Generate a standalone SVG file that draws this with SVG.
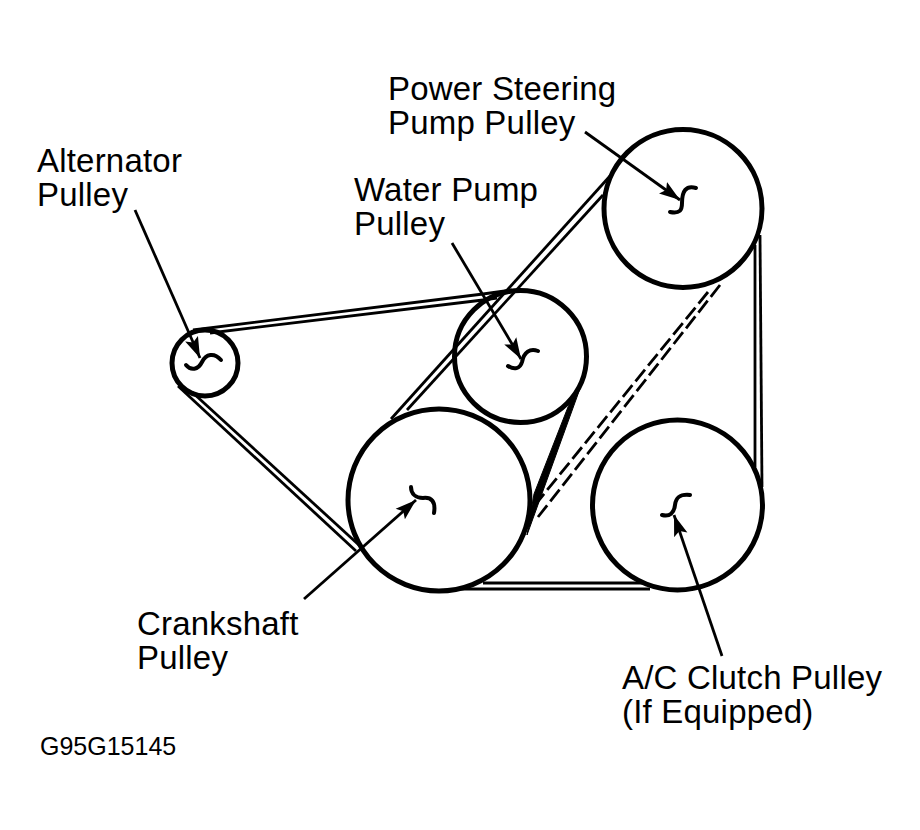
<svg xmlns="http://www.w3.org/2000/svg" width="920" height="830" viewBox="0 0 920 830">
<defs>
<marker id="arrow" markerUnits="userSpaceOnUse" markerWidth="24" markerHeight="16" refX="21" refY="8" orient="auto">
<path d="M0 1L21 8L0 15L4 8Z" fill="#000"/>
</marker>
</defs>
<style>
.p{fill:none;stroke:#000;stroke-width:5}
.s{fill:none;stroke:#000;stroke-width:4;stroke-linecap:round}
.b{fill:none;stroke:#000;stroke-width:2.8}
.d{fill:none;stroke:#000;stroke-width:2.8;stroke-dasharray:15 5}
.a{fill:none;stroke:#000;stroke-width:2.8;marker-end:url(#arrow)}
text{font-family:"Liberation Sans",Arial,sans-serif;font-size:33px;letter-spacing:.2px;fill:#000}
.c{font-size:25px;letter-spacing:0}
</style>
<rect width="920" height="830" fill="#fff"/>
<g id="connectors">
<path class="b" d="M193 330L483 294L512 290"/>
<path class="b" d="M210 333L483 300L497 298"/>
<path class="b" d="M178 386L356 551"/>
<path class="b" d="M192 392L360 546"/>
<path class="b" d="M391 419L610 176"/>
<path class="b" d="M407 410L603 195"/>
<path d="M586 372L568 407L534 494L527 535Z" fill="#000" stroke="#000" stroke-width="1"/>
<path class="d" d="M720 285L538 517"/>
<path class="d" d="M708 292L535 505"/>
<path class="b" d="M755 245L755 467"/>
<path class="b" d="M760 235L762 487"/>
<path class="b" d="M483 583L643 583"/>
<path class="b" d="M460 589L650 589"/>
<path class="a" d="M585 132L680 200"/>
<path class="a" d="M135 210L200 358"/>
<path class="a" d="M452 243L521 359"/>
<path class="a" d="M304 599L416 500"/>
<path class="a" d="M722 656L674 515"/>
</g>
<g id="alternator-pulley">
<circle class="p" cx="205" cy="363" r="33"/>
<path class="s" d="M186 365C191 371 198 370 202 362C206 354 214 352 221 360"/>
<text x="37" y="171.500">Alternator</text>
<text x="37" y="205.500">Pulley</text>
</g>
<g id="water-pump-pulley">
<circle class="p" cx="520.500" cy="356.500" r="66"/>
<path class="s" d="M508 366C514 370 520 369 522 362C524 352 530 348 538 351"/>
<text x="354" y="201">Water Pump</text>
<text x="354" y="235">Pulley</text>
</g>
<g id="crankshaft-pulley">
<circle class="p" cx="439" cy="500" r="91"/>
<path class="s" d="M411 487C411 494 416 498 423 498C431 497 436 501 434 513"/>
<text x="137" y="635">Crankshaft</text>
<text x="137" y="669">Pulley</text>
</g>
<g id="power-steering-pulley">
<circle class="p" cx="683" cy="208.500" r="79"/>
<path class="s" d="M670 212C680 214 682 210 682 203C682 191 686 185 696 188"/>
<text x="388" y="99.500">Power Steering</text>
<text x="388" y="133.500">Pump Pulley</text>
</g>
<g id="ac-clutch-pulley">
<circle class="p" cx="677.500" cy="505" r="85"/>
<path class="s" d="M662 515C670 517 674 513 675 505C676 497 680 494 690 495"/>
<text x="622" y="689">A/C Clutch Pulley</text>
<text x="622" y="723">(If Equipped)</text>
</g>
<text class="c" x="40" y="755">G95G15145</text>
</svg>
